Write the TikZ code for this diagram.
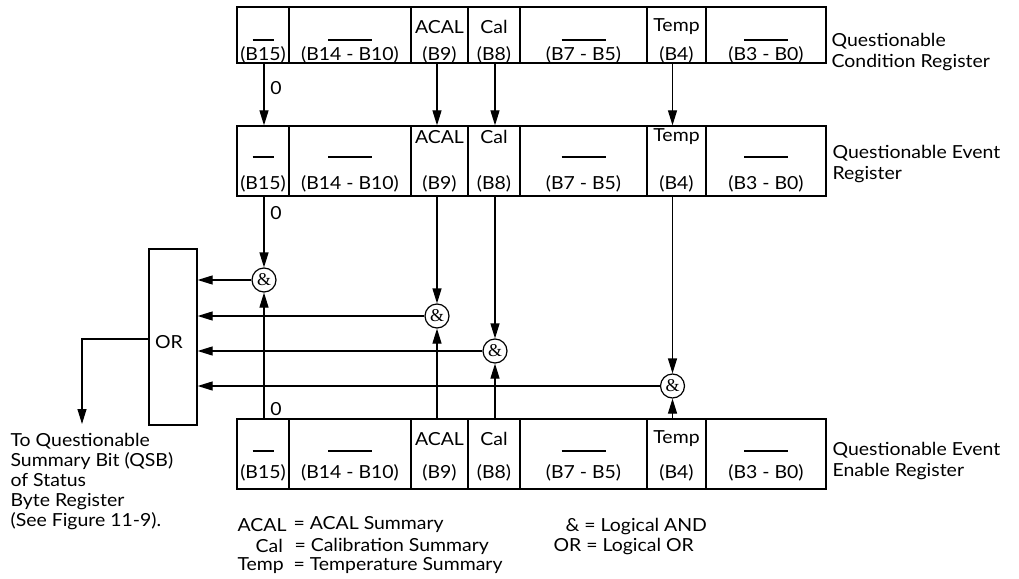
\documentclass[tikz,border=0pt]{standalone}
\usepackage{fontspec}
\setmainfont{Lato}[FakeStretch=1.08]
\newfontfamily\ampfont{Liberation Serif}
\usetikzlibrary{arrows.meta,fit}
\tikzset{
  cell/.style={draw, inner sep=0pt, line width=1.3pt},
  txt/.style={inner sep=0pt},
  rulebar/.style={line width=1.3pt},
  arr/.style={-{Triangle[length=15pt,width=9pt]}},
  andg/.style={circle, draw, fill=white, minimum size=24pt, inner sep=0pt, font=\ampfont\fontsize{18}{18}\selectfont},
}
\newcommand\drawreg[6]{%
  \foreach \n/\xa/\xb/\bt in {b15/237/289/(B15),b14/289/411/(B14 - B10),b9/411/468/(B9),b8/468/520/(B8),b7/520/647/(B7 - B5),b4/647/706/(B4),b3/706/826/(B3 - B0)}{
    \node[cell, fit={(\xa,#2) (\xb,#3)}] (#1\n) {};
    \node[txt] at (#1\n.center |- 0,#6) {\bt};
  }
  \node[txt] at (#1b9.center |- 0,#4) {ACAL};
  \node[txt] at (#1b8.center |- 0,#4) {Cal};
  \node[txt] at (#1b4.center |- 0,#4) {Temp};
  \draw[rulebar] ([xshift=-10.5pt]#1b15.center |- 0,#5) -- ++(21,0);
  \foreach \n in {b14,b7,b3}{
    \draw[rulebar] ([xshift=-22pt]#1\n.center |- 0,#5) -- ++(44,0);
  }
}
\begin{document}
\begin{tikzpicture}[x=1pt,y=-1pt,line width=1.2pt,font=\fontsize{18}{21}\selectfont]
\useasboundingbox[fill=white] (0,0) rectangle (1019,578);

% registers
\drawreg{r1}{7}{63}{27}{40}{55}
\drawreg{r2}{126}{196}{137}{157}{184}
\drawreg{r3}{419}{489}{439}{451}{473}

\node[txt, anchor=west, align=left] (l1) at (831,52) {Questionable\\Condition Register};
\node[txt, anchor=west, align=left] (l2) at (832,164) {Questionable Event\\Register};
\node[txt, anchor=west, align=left] (l3) at (832,461) {Questionable Event\\Enable Register};

% OR box
\node[cell, fit={(149,249) (197,425)}] (or) {};
\node[txt] at (169,342) {OR};

% AND gates
\node[andg] (g1) at (264,280) {\&};
\node[andg] (g2) at (437,316) {\&};
\node[andg] (g3) at (495,351) {\&};
\node[andg] (g4) at (672.5,386) {\&};

% condition -> event
\draw[arr] (g1 |- r1b15.south) -- (g1 |- r2b15.north);
\draw[arr] (g2 |- r1b9.south) -- (g2 |- r2b9.north);
\draw[arr] (g3 |- r1b8.south) -- (g3 |- r2b8.north);
\draw[arr] (g4 |- r1b4.south) -- (g4 |- r2b4.north);
\node[txt] at (276,88) {0};

% event -> and
\draw[arr] (g1 |- r2b15.south) -- (g1.north);
\draw[arr] (g2 |- r2b9.south) -- (g2.north);
\draw[arr] (g3 |- r2b8.south) -- (g3.north);
\draw[arr] (g4 |- r2b4.south) -- (g4.north);
\node[txt] at (276,213) {0};

% enable -> and
\draw[arr] (g1 |- r3b15.north) -- (g1.south);
\draw[arr] (g2 |- r3b9.north) -- (g2.south);
\draw[arr] (g3 |- r3b8.north) -- (g3.south);
\draw[arr] (g4 |- r3b4.north) -- (g4.south);
\node[txt] at (276,409) {0};

% and -> or
\draw[arr] (g1.west) -- (or.east |- g1);
\draw[arr] (g2.west) -- (or.east |- g2);
\draw[arr] (g3.west) -- (or.east |- g3);
\draw[arr] (g4.west) -- (or.east |- g4);

% output
\coordinate (qsb) at (82,424);
\draw[arr] (or.west |- 0,339) -| (qsb);
\node[txt, anchor=west, align=left, font=\fontsize{18}{20}\selectfont] (qt) at (10,482) {To Questionable\\Summary Bit (QSB)\\of Status\\Byte Register\\(See Figure 11-9).};

% legend
\node[txt, anchor=west] at (237,525) {ACAL};
\node[txt, anchor=west] at (255,546) {Cal};
\node[txt, anchor=west] at (237,566) {Temp};
\node[txt, anchor=west] at (293,525) {= ACAL Summary};
\node[txt, anchor=west] at (294,546) {= Calibration Summary};
\node[txt, anchor=west] at (293,566) {= Temperature Summary};
\node[txt, anchor=west] at (565,527) {\& = Logical AND};
\node[txt, anchor=west] at (553,547) {OR = Logical OR};
\end{tikzpicture}
\end{document}
